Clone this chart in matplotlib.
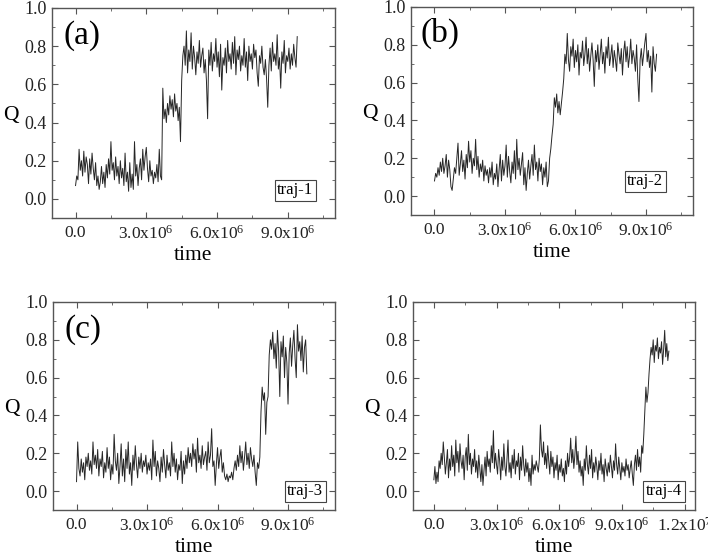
import numpy as np
import matplotlib
matplotlib.use("Agg")
import matplotlib.pyplot as plt
from matplotlib.ticker import FuncFormatter, MultipleLocator

plt.rcParams['font.family'] = ['Liberation Serif', 'DejaVu Serif']
plt.rcParams['mathtext.fontset'] = 'custom'
plt.rcParams['mathtext.rm'] = 'Liberation Serif'
plt.rcParams['mathtext.it'] = 'Liberation Serif:italic'

t_end_1 = 9.4e6
q_traj1 = [
    0.07, 0.12, 0.10, 0.26, 0.15, 0.20, 0.12, 0.25, 0.14, 0.22,
    0.18, 0.08, 0.21, 0.13, 0.24, 0.16, 0.10, 0.19, 0.07, 0.12,
    0.05, 0.09, 0.17, 0.08, 0.14, 0.06, 0.18, 0.11, 0.21, 0.13,
    0.30, 0.15, 0.19, 0.10, 0.22, 0.12, 0.17, 0.08, 0.20, 0.11,
    0.16, 0.07, 0.24, 0.09, 0.14, 0.04, 0.19, 0.06, 0.13, 0.05,
    0.30, 0.12, 0.18, 0.07, 0.16, 0.21, 0.10, 0.26, 0.15, 0.22,
    0.27, 0.16, 0.09, 0.20, 0.12, 0.15, 0.08, 0.14, 0.11, 0.18,
    0.09, 0.26, 0.12, 0.10,
    0.58, 0.42, 0.47, 0.40, 0.50, 0.44, 0.54, 0.47, 0.52, 0.43,
    0.55, 0.46, 0.50, 0.41, 0.48, 0.30,
    0.62, 0.75, 0.80, 0.70, 0.88, 0.66, 0.78, 0.72, 0.87, 0.68,
    0.80, 0.74, 0.65, 0.77, 0.71, 0.83, 0.69, 0.75, 0.79, 0.66,
    0.73, 0.62, 0.42, 0.78, 0.70, 0.82, 0.67, 0.76, 0.72, 0.84,
    0.69, 0.77, 0.64, 0.81, 0.57, 0.74, 0.70, 0.79, 0.66, 0.83,
    0.72, 0.76, 0.68, 0.82, 0.71, 0.85, 0.65, 0.78, 0.73, 0.80,
    0.67, 0.75, 0.70, 0.84, 0.69, 0.77, 0.62, 0.80, 0.72, 0.76,
    0.68, 0.81, 0.74, 0.78, 0.66, 0.59, 0.75, 0.71, 0.80, 0.69,
    0.65, 0.73, 0.63, 0.48, 0.70, 0.79, 0.67, 0.82, 0.72, 0.76,
    0.70, 0.86, 0.68, 0.74, 0.58, 0.77, 0.71, 0.83, 0.66, 0.75,
    0.72, 0.79, 0.68, 0.76, 0.70, 0.81, 0.74, 0.69, 0.85,
]

t_end_2 = 9.45e6
q_traj2 = [
    0.08, 0.12, 0.10, 0.15, 0.11, 0.18, 0.13, 0.20, 0.12, 0.16,
    0.22, 0.10, 0.19, 0.14, 0.05, 0.03, 0.09, 0.15, 0.12, 0.20,
    0.28, 0.11, 0.17, 0.24, 0.13, 0.19, 0.09, 0.22, 0.15, 0.29,
    0.18, 0.24, 0.12, 0.20, 0.16, 0.30, 0.14, 0.21, 0.10, 0.17,
    0.13, 0.19, 0.08, 0.16, 0.11, 0.14, 0.07, 0.15, 0.10, 0.18,
    0.06, 0.12, 0.09, 0.17, 0.05, 0.14, 0.22, 0.08, 0.19, 0.11,
    0.16, 0.27, 0.10, 0.21, 0.13, 0.07, 0.18, 0.12, 0.24, 0.09,
    0.30, 0.14, 0.20, 0.11, 0.17, 0.23, 0.06, 0.15, 0.03, 0.12,
    0.19, 0.09, 0.16, 0.22, 0.11, 0.27, 0.14, 0.18, 0.08, 0.20,
    0.13, 0.17, 0.06, 0.15, 0.10, 0.18, 0.05,
    0.08, 0.20, 0.25, 0.32, 0.38,
    0.52, 0.47, 0.54, 0.44, 0.50, 0.43, 0.49, 0.55,
    0.62, 0.75, 0.70, 0.86, 0.72, 0.66, 0.79, 0.74, 0.83, 0.68,
    0.77, 0.71, 0.80, 0.64, 0.76, 0.73, 0.82, 0.69, 0.75, 0.84,
    0.70, 0.78, 0.66, 0.74, 0.81, 0.72, 0.58, 0.77, 0.71, 0.80,
    0.67, 0.75, 0.83, 0.70, 0.76, 0.65, 0.79, 0.73, 0.84, 0.69,
    0.74, 0.80, 0.68, 0.77, 0.72, 0.66, 0.81, 0.75, 0.70, 0.78,
    0.64, 0.76, 0.82, 0.71, 0.79, 0.68, 0.74, 0.83, 0.70, 0.77,
    0.73, 0.66, 0.80, 0.62, 0.50, 0.72, 0.78, 0.69, 0.75, 0.81,
    0.86, 0.71, 0.77, 0.68, 0.74, 0.55, 0.79, 0.70, 0.66, 0.75,
]

t_end_3 = 9.8e6
q_traj3 = [
    0.05, 0.26, 0.12, 0.08, 0.17, 0.10, 0.15, 0.06, 0.18, 0.13,
    0.20, 0.11, 0.16, 0.09, 0.26, 0.14, 0.19, 0.12, 0.22, 0.08,
    0.17, 0.13, 0.21, 0.07, 0.15, 0.10, 0.23, 0.12, 0.18, 0.06,
    0.14, 0.09, 0.30, 0.16, 0.11, 0.20, 0.04, 0.13, 0.25, 0.08,
    0.17, 0.05, 0.22, 0.12, 0.26, 0.09, 0.15, 0.03, 0.19, 0.11,
    0.24, 0.14, 0.07, 0.18, 0.12, 0.20, 0.10, 0.16, 0.13, 0.19,
    0.09, 0.15, 0.11, 0.17, 0.06, 0.27, 0.13, 0.21, 0.08, 0.16,
    0.12, 0.05, 0.18, 0.10, 0.22, 0.14, 0.07, 0.19, 0.11, 0.15,
    0.08, 0.26, 0.13, 0.20, 0.10, 0.17, 0.06, 0.14, 0.11, 0.21,
    0.04, 0.16, 0.09, 0.19, 0.12, 0.23, 0.15, 0.20, 0.13, 0.25,
    0.17, 0.22, 0.10, 0.28, 0.15, 0.19, 0.12, 0.24, 0.14, 0.18,
    0.21, 0.11, 0.26, 0.15, 0.19, 0.33, 0.13, 0.16, 0.03, 0.14,
    0.23, 0.12, 0.18, 0.22, 0.10, 0.15, 0.08, 0.06, 0.09, 0.05,
    0.08, 0.07, 0.10, 0.06, 0.12, 0.16, 0.11, 0.19, 0.13, 0.24,
    0.15, 0.21, 0.11, 0.18, 0.26, 0.14, 0.20, 0.12, 0.23, 0.17,
    0.13, 0.19, 0.10, 0.03, 0.15, 0.12, 0.18,
    0.42, 0.55, 0.48, 0.52, 0.30, 0.47, 0.50,
    0.72, 0.80, 0.75, 0.84, 0.70, 0.78, 0.65, 0.85, 0.74, 0.50,
    0.79, 0.71, 0.82, 0.60, 0.76, 0.68, 0.46, 0.73, 0.81, 0.66,
    0.77, 0.85, 0.70, 0.60, 0.88, 0.74, 0.79, 0.69, 0.82, 0.63,
    0.76, 0.80, 0.62,
]

t_end_4 = 11.25e6
q_traj4 = [
    0.06, 0.13, 0.04, 0.10, 0.05, 0.16, 0.12, 0.20, 0.14, 0.26,
    0.18, 0.09, 0.15, 0.22, 0.07, 0.17, 0.11, 0.24, 0.13, 0.19,
    0.08, 0.27, 0.15, 0.21, 0.10, 0.25, 0.16, 0.12, 0.19, 0.06,
    0.18, 0.23, 0.11, 0.30, 0.14, 0.20, 0.09, 0.17, 0.13, 0.22,
    0.10, 0.16, 0.07, 0.19, 0.12, 0.05, 0.14, 0.03, 0.11, 0.18,
    0.08, 0.21, 0.13, 0.17, 0.10, 0.24, 0.15, 0.32, 0.12, 0.20,
    0.14, 0.09, 0.22, 0.16, 0.06, 0.18, 0.11, 0.25, 0.13, 0.08,
    0.17, 0.27, 0.10, 0.15, 0.07, 0.19, 0.12, 0.22, 0.09, 0.16,
    0.13, 0.20, 0.06, 0.18, 0.11, 0.24, 0.14, 0.08, 0.17, 0.10,
    0.15, 0.05, 0.12, 0.03, 0.19, 0.09, 0.14, 0.11, 0.16, 0.13,
    0.10, 0.17, 0.35, 0.22, 0.18, 0.26, 0.14, 0.20, 0.12, 0.24,
    0.16, 0.09, 0.21, 0.13, 0.18, 0.07, 0.15, 0.11, 0.19, 0.06,
    0.14, 0.10, 0.17, 0.08, 0.12, 0.05, 0.16, 0.09, 0.20, 0.13,
    0.18, 0.28, 0.15, 0.22, 0.12, 0.19, 0.29, 0.14, 0.21, 0.10,
    0.16, 0.08, 0.13, 0.03, 0.17, 0.11, 0.24, 0.14, 0.09, 0.19,
    0.12, 0.22, 0.07, 0.15, 0.10, 0.18, 0.13, 0.06, 0.16, 0.11,
    0.20, 0.09, 0.14, 0.05, 0.17, 0.12, 0.08, 0.15, 0.10, 0.19,
    0.13, 0.07, 0.16, 0.11, 0.25, 0.14, 0.09, 0.18, 0.12, 0.06,
    0.15, 0.10, 0.13, 0.08, 0.17, 0.11, 0.14, 0.07, 0.12, 0.16,
    0.09, 0.03, 0.14, 0.19, 0.11, 0.22, 0.13, 0.18, 0.10, 0.24,
    0.20,
    0.30, 0.42, 0.55, 0.47, 0.52, 0.62, 0.70, 0.76,
    0.72, 0.80, 0.68, 0.77, 0.74, 0.81, 0.70, 0.76, 0.73, 0.79,
    0.67, 0.75, 0.85, 0.71, 0.78, 0.69, 0.74,
]

panel_tags = ['(a)', '(b)', '(c)', None]
traj_names = ['traj-1', 'traj-2', 'traj-3', 'traj-4']
x_max = [1.1e7, 1.1e7, 1.1e7, 1.25e7]


def time_fmt(v, pos):
    if abs(v) < 1:
        return '0.0'
    e = int(np.floor(np.log10(abs(v)) + 1e-9))
    m = v / 10 ** e
    return f'{m:.1f}x10$^{{{e}}}$'


fig = plt.figure(figsize=(7.08, 5.58), dpi=100)
boxes = [
    [0.0734, 0.6093, 0.3997, 0.3764],
    [0.5805, 0.6147, 0.3983, 0.3728],
    [0.0749, 0.0860, 0.3983, 0.3728],
    [0.5833, 0.0860, 0.3983, 0.3728],
]
# label / box positions in axes fraction
tag_pos = [(0.106, 0.867), (0.103, 0.875), (0.106, 0.865), None]
name_pos = [(0.86, 0.133), (0.83, 0.163), (0.894, 0.091), (0.89, 0.091)]

series = [(t_end_1, q_traj1), (t_end_2, q_traj2), (t_end_3, q_traj3), (t_end_4, q_traj4)]

for k, (t_end, q) in enumerate(series):
    ax = fig.add_axes(boxes[k])
    t = np.linspace(0, t_end, len(q))
    ax.plot(t, q, color='#262626', linewidth=0.7)

    ax.set_xlim(-1e6, x_max[k])
    ax.set_ylim(-0.1, 1.0)
    ax.xaxis.set_major_locator(MultipleLocator(3e6))
    ax.xaxis.set_minor_locator(MultipleLocator(1.5e6))
    ax.yaxis.set_major_locator(MultipleLocator(0.2))
    ax.yaxis.set_minor_locator(MultipleLocator(0.1))
    ax.xaxis.set_major_formatter(FuncFormatter(time_fmt))
    ax.yaxis.set_major_formatter(FuncFormatter(lambda v, p: f'{v:.1f}'))
    ax.tick_params(which='both', direction='in', top=True, right=True,
                   color='#555555', labelcolor='#222222')
    ax.tick_params(axis='y', labelsize=13, pad=4)
    ax.tick_params(axis='x', labelsize=12.5, pad=5)
    ax.tick_params(which='major', length=4, width=0.8)
    ax.tick_params(which='minor', length=2, width=0.6)
    for s in ax.spines.values():
        s.set_color('#555555')
        s.set_linewidth(1.0)

    ax.set_xlabel('time', fontsize=15.5, va='center')
    ax.xaxis.set_label_coords(0.5, -0.18)
    ax.set_ylabel('Q', fontsize=15.5, rotation=0, va='center', ha='center')
    ax.yaxis.set_label_coords(-0.145, 0.49)

    if panel_tags[k]:
        ax.text(*tag_pos[k], panel_tags[k], transform=ax.transAxes,
                fontsize=24, ha='center', va='center')
    ax.text(*name_pos[k], traj_names[k], transform=ax.transAxes,
            fontsize=12, ha='center', va='center',
            bbox=dict(boxstyle='square,pad=0.15', fc='white', ec='#444444', lw=0.8))

fig.savefig('out.png', dpi=100)
